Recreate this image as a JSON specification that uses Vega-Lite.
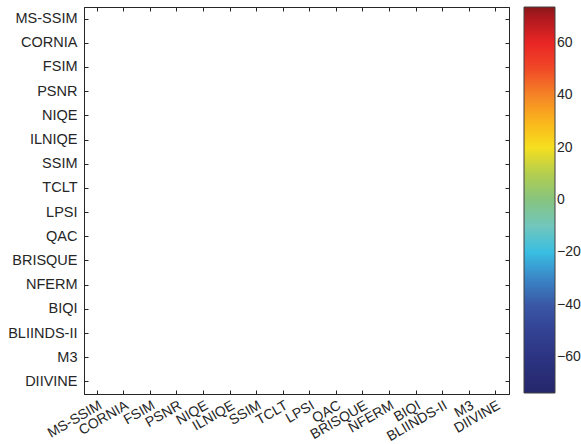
{
  "$schema": "https://vega.github.io/schema/vega-lite/v6.json",
  "width": 425,
  "height": 387,
  "padding": {"left": 7, "top": 6, "right": 0, "bottom": 0},
  "config": {
    "font": "Liberation Sans",
    "view": {"stroke": "#262626", "strokeWidth": 1},
    "axis": {"domainColor": "#262626", "tickColor": "#262626", "labelColor": "#262626", "labelFontSize": 14.5, "grid": false, "tickSize": -4},
    "legend": {"gradientLength": 386, "gradientThickness": 31, "labelFontSize": 14, "labelColor": "#262626", "labelOffset": 5, "offset": 14, "padding": 0, "gradientStrokeColor": "#404040", "gradientStrokeWidth": 1}
  },
  "datasets": {
    "cells": [
      {"c":"MS-SSIM","r":"MS-SSIM","v":null},{"c":"CORNIA","r":"MS-SSIM","v":null},{"c":"FSIM","r":"MS-SSIM","v":null},{"c":"PSNR","r":"MS-SSIM","v":null},{"c":"NIQE","r":"MS-SSIM","v":null},{"c":"ILNIQE","r":"MS-SSIM","v":null},{"c":"SSIM","r":"MS-SSIM","v":null},{"c":"TCLT","r":"MS-SSIM","v":null},{"c":"LPSI","r":"MS-SSIM","v":null},{"c":"QAC","r":"MS-SSIM","v":null},{"c":"BRISQUE","r":"MS-SSIM","v":null},{"c":"NFERM","r":"MS-SSIM","v":null},{"c":"BIQI","r":"MS-SSIM","v":null},{"c":"BLIINDS-II","r":"MS-SSIM","v":null},{"c":"M3","r":"MS-SSIM","v":null},{"c":"DIIVINE","r":"MS-SSIM","v":null},
      {"c":"MS-SSIM","r":"CORNIA","v":null},{"c":"CORNIA","r":"CORNIA","v":null},{"c":"FSIM","r":"CORNIA","v":null},{"c":"PSNR","r":"CORNIA","v":null},{"c":"NIQE","r":"CORNIA","v":null},{"c":"ILNIQE","r":"CORNIA","v":null},{"c":"SSIM","r":"CORNIA","v":null},{"c":"TCLT","r":"CORNIA","v":null},{"c":"LPSI","r":"CORNIA","v":null},{"c":"QAC","r":"CORNIA","v":null},{"c":"BRISQUE","r":"CORNIA","v":null},{"c":"NFERM","r":"CORNIA","v":null},{"c":"BIQI","r":"CORNIA","v":null},{"c":"BLIINDS-II","r":"CORNIA","v":null},{"c":"M3","r":"CORNIA","v":null},{"c":"DIIVINE","r":"CORNIA","v":null},
      {"c":"MS-SSIM","r":"FSIM","v":null},{"c":"CORNIA","r":"FSIM","v":null},{"c":"FSIM","r":"FSIM","v":null},{"c":"PSNR","r":"FSIM","v":null},{"c":"NIQE","r":"FSIM","v":null},{"c":"ILNIQE","r":"FSIM","v":null},{"c":"SSIM","r":"FSIM","v":null},{"c":"TCLT","r":"FSIM","v":null},{"c":"LPSI","r":"FSIM","v":null},{"c":"QAC","r":"FSIM","v":null},{"c":"BRISQUE","r":"FSIM","v":null},{"c":"NFERM","r":"FSIM","v":null},{"c":"BIQI","r":"FSIM","v":null},{"c":"BLIINDS-II","r":"FSIM","v":null},{"c":"M3","r":"FSIM","v":null},{"c":"DIIVINE","r":"FSIM","v":null},
      {"c":"MS-SSIM","r":"PSNR","v":null},{"c":"CORNIA","r":"PSNR","v":null},{"c":"FSIM","r":"PSNR","v":null},{"c":"PSNR","r":"PSNR","v":null},{"c":"NIQE","r":"PSNR","v":null},{"c":"ILNIQE","r":"PSNR","v":null},{"c":"SSIM","r":"PSNR","v":null},{"c":"TCLT","r":"PSNR","v":null},{"c":"LPSI","r":"PSNR","v":null},{"c":"QAC","r":"PSNR","v":null},{"c":"BRISQUE","r":"PSNR","v":null},{"c":"NFERM","r":"PSNR","v":null},{"c":"BIQI","r":"PSNR","v":null},{"c":"BLIINDS-II","r":"PSNR","v":null},{"c":"M3","r":"PSNR","v":null},{"c":"DIIVINE","r":"PSNR","v":null},
      {"c":"MS-SSIM","r":"NIQE","v":null},{"c":"CORNIA","r":"NIQE","v":null},{"c":"FSIM","r":"NIQE","v":null},{"c":"PSNR","r":"NIQE","v":null},{"c":"NIQE","r":"NIQE","v":null},{"c":"ILNIQE","r":"NIQE","v":null},{"c":"SSIM","r":"NIQE","v":null},{"c":"TCLT","r":"NIQE","v":null},{"c":"LPSI","r":"NIQE","v":null},{"c":"QAC","r":"NIQE","v":null},{"c":"BRISQUE","r":"NIQE","v":null},{"c":"NFERM","r":"NIQE","v":null},{"c":"BIQI","r":"NIQE","v":null},{"c":"BLIINDS-II","r":"NIQE","v":null},{"c":"M3","r":"NIQE","v":null},{"c":"DIIVINE","r":"NIQE","v":null},
      {"c":"MS-SSIM","r":"ILNIQE","v":null},{"c":"CORNIA","r":"ILNIQE","v":null},{"c":"FSIM","r":"ILNIQE","v":null},{"c":"PSNR","r":"ILNIQE","v":null},{"c":"NIQE","r":"ILNIQE","v":null},{"c":"ILNIQE","r":"ILNIQE","v":null},{"c":"SSIM","r":"ILNIQE","v":null},{"c":"TCLT","r":"ILNIQE","v":null},{"c":"LPSI","r":"ILNIQE","v":null},{"c":"QAC","r":"ILNIQE","v":null},{"c":"BRISQUE","r":"ILNIQE","v":null},{"c":"NFERM","r":"ILNIQE","v":null},{"c":"BIQI","r":"ILNIQE","v":null},{"c":"BLIINDS-II","r":"ILNIQE","v":null},{"c":"M3","r":"ILNIQE","v":null},{"c":"DIIVINE","r":"ILNIQE","v":null},
      {"c":"MS-SSIM","r":"SSIM","v":null},{"c":"CORNIA","r":"SSIM","v":null},{"c":"FSIM","r":"SSIM","v":null},{"c":"PSNR","r":"SSIM","v":null},{"c":"NIQE","r":"SSIM","v":null},{"c":"ILNIQE","r":"SSIM","v":null},{"c":"SSIM","r":"SSIM","v":null},{"c":"TCLT","r":"SSIM","v":null},{"c":"LPSI","r":"SSIM","v":null},{"c":"QAC","r":"SSIM","v":null},{"c":"BRISQUE","r":"SSIM","v":null},{"c":"NFERM","r":"SSIM","v":null},{"c":"BIQI","r":"SSIM","v":null},{"c":"BLIINDS-II","r":"SSIM","v":null},{"c":"M3","r":"SSIM","v":null},{"c":"DIIVINE","r":"SSIM","v":null},
      {"c":"MS-SSIM","r":"TCLT","v":null},{"c":"CORNIA","r":"TCLT","v":null},{"c":"FSIM","r":"TCLT","v":null},{"c":"PSNR","r":"TCLT","v":null},{"c":"NIQE","r":"TCLT","v":null},{"c":"ILNIQE","r":"TCLT","v":null},{"c":"SSIM","r":"TCLT","v":null},{"c":"TCLT","r":"TCLT","v":null},{"c":"LPSI","r":"TCLT","v":null},{"c":"QAC","r":"TCLT","v":null},{"c":"BRISQUE","r":"TCLT","v":null},{"c":"NFERM","r":"TCLT","v":null},{"c":"BIQI","r":"TCLT","v":null},{"c":"BLIINDS-II","r":"TCLT","v":null},{"c":"M3","r":"TCLT","v":null},{"c":"DIIVINE","r":"TCLT","v":null},
      {"c":"MS-SSIM","r":"LPSI","v":null},{"c":"CORNIA","r":"LPSI","v":null},{"c":"FSIM","r":"LPSI","v":null},{"c":"PSNR","r":"LPSI","v":null},{"c":"NIQE","r":"LPSI","v":null},{"c":"ILNIQE","r":"LPSI","v":null},{"c":"SSIM","r":"LPSI","v":null},{"c":"TCLT","r":"LPSI","v":null},{"c":"LPSI","r":"LPSI","v":null},{"c":"QAC","r":"LPSI","v":null},{"c":"BRISQUE","r":"LPSI","v":null},{"c":"NFERM","r":"LPSI","v":null},{"c":"BIQI","r":"LPSI","v":null},{"c":"BLIINDS-II","r":"LPSI","v":null},{"c":"M3","r":"LPSI","v":null},{"c":"DIIVINE","r":"LPSI","v":null},
      {"c":"MS-SSIM","r":"QAC","v":null},{"c":"CORNIA","r":"QAC","v":null},{"c":"FSIM","r":"QAC","v":null},{"c":"PSNR","r":"QAC","v":null},{"c":"NIQE","r":"QAC","v":null},{"c":"ILNIQE","r":"QAC","v":null},{"c":"SSIM","r":"QAC","v":null},{"c":"TCLT","r":"QAC","v":null},{"c":"LPSI","r":"QAC","v":null},{"c":"QAC","r":"QAC","v":null},{"c":"BRISQUE","r":"QAC","v":null},{"c":"NFERM","r":"QAC","v":null},{"c":"BIQI","r":"QAC","v":null},{"c":"BLIINDS-II","r":"QAC","v":null},{"c":"M3","r":"QAC","v":null},{"c":"DIIVINE","r":"QAC","v":null},
      {"c":"MS-SSIM","r":"BRISQUE","v":null},{"c":"CORNIA","r":"BRISQUE","v":null},{"c":"FSIM","r":"BRISQUE","v":null},{"c":"PSNR","r":"BRISQUE","v":null},{"c":"NIQE","r":"BRISQUE","v":null},{"c":"ILNIQE","r":"BRISQUE","v":null},{"c":"SSIM","r":"BRISQUE","v":null},{"c":"TCLT","r":"BRISQUE","v":null},{"c":"LPSI","r":"BRISQUE","v":null},{"c":"QAC","r":"BRISQUE","v":null},{"c":"BRISQUE","r":"BRISQUE","v":null},{"c":"NFERM","r":"BRISQUE","v":null},{"c":"BIQI","r":"BRISQUE","v":null},{"c":"BLIINDS-II","r":"BRISQUE","v":null},{"c":"M3","r":"BRISQUE","v":null},{"c":"DIIVINE","r":"BRISQUE","v":null},
      {"c":"MS-SSIM","r":"NFERM","v":null},{"c":"CORNIA","r":"NFERM","v":null},{"c":"FSIM","r":"NFERM","v":null},{"c":"PSNR","r":"NFERM","v":null},{"c":"NIQE","r":"NFERM","v":null},{"c":"ILNIQE","r":"NFERM","v":null},{"c":"SSIM","r":"NFERM","v":null},{"c":"TCLT","r":"NFERM","v":null},{"c":"LPSI","r":"NFERM","v":null},{"c":"QAC","r":"NFERM","v":null},{"c":"BRISQUE","r":"NFERM","v":null},{"c":"NFERM","r":"NFERM","v":null},{"c":"BIQI","r":"NFERM","v":null},{"c":"BLIINDS-II","r":"NFERM","v":null},{"c":"M3","r":"NFERM","v":null},{"c":"DIIVINE","r":"NFERM","v":null},
      {"c":"MS-SSIM","r":"BIQI","v":null},{"c":"CORNIA","r":"BIQI","v":null},{"c":"FSIM","r":"BIQI","v":null},{"c":"PSNR","r":"BIQI","v":null},{"c":"NIQE","r":"BIQI","v":null},{"c":"ILNIQE","r":"BIQI","v":null},{"c":"SSIM","r":"BIQI","v":null},{"c":"TCLT","r":"BIQI","v":null},{"c":"LPSI","r":"BIQI","v":null},{"c":"QAC","r":"BIQI","v":null},{"c":"BRISQUE","r":"BIQI","v":null},{"c":"NFERM","r":"BIQI","v":null},{"c":"BIQI","r":"BIQI","v":null},{"c":"BLIINDS-II","r":"BIQI","v":null},{"c":"M3","r":"BIQI","v":null},{"c":"DIIVINE","r":"BIQI","v":null},
      {"c":"MS-SSIM","r":"BLIINDS-II","v":null},{"c":"CORNIA","r":"BLIINDS-II","v":null},{"c":"FSIM","r":"BLIINDS-II","v":null},{"c":"PSNR","r":"BLIINDS-II","v":null},{"c":"NIQE","r":"BLIINDS-II","v":null},{"c":"ILNIQE","r":"BLIINDS-II","v":null},{"c":"SSIM","r":"BLIINDS-II","v":null},{"c":"TCLT","r":"BLIINDS-II","v":null},{"c":"LPSI","r":"BLIINDS-II","v":null},{"c":"QAC","r":"BLIINDS-II","v":null},{"c":"BRISQUE","r":"BLIINDS-II","v":null},{"c":"NFERM","r":"BLIINDS-II","v":null},{"c":"BIQI","r":"BLIINDS-II","v":null},{"c":"BLIINDS-II","r":"BLIINDS-II","v":null},{"c":"M3","r":"BLIINDS-II","v":null},{"c":"DIIVINE","r":"BLIINDS-II","v":null},
      {"c":"MS-SSIM","r":"M3","v":null},{"c":"CORNIA","r":"M3","v":null},{"c":"FSIM","r":"M3","v":null},{"c":"PSNR","r":"M3","v":null},{"c":"NIQE","r":"M3","v":null},{"c":"ILNIQE","r":"M3","v":null},{"c":"SSIM","r":"M3","v":null},{"c":"TCLT","r":"M3","v":null},{"c":"LPSI","r":"M3","v":null},{"c":"QAC","r":"M3","v":null},{"c":"BRISQUE","r":"M3","v":null},{"c":"NFERM","r":"M3","v":null},{"c":"BIQI","r":"M3","v":null},{"c":"BLIINDS-II","r":"M3","v":null},{"c":"M3","r":"M3","v":null},{"c":"DIIVINE","r":"M3","v":null},
      {"c":"MS-SSIM","r":"DIIVINE","v":null},{"c":"CORNIA","r":"DIIVINE","v":null},{"c":"FSIM","r":"DIIVINE","v":null},{"c":"PSNR","r":"DIIVINE","v":null},{"c":"NIQE","r":"DIIVINE","v":null},{"c":"ILNIQE","r":"DIIVINE","v":null},{"c":"SSIM","r":"DIIVINE","v":null},{"c":"TCLT","r":"DIIVINE","v":null},{"c":"LPSI","r":"DIIVINE","v":null},{"c":"QAC","r":"DIIVINE","v":null},{"c":"BRISQUE","r":"DIIVINE","v":null},{"c":"NFERM","r":"DIIVINE","v":null},{"c":"BIQI","r":"DIIVINE","v":null},{"c":"BLIINDS-II","r":"DIIVINE","v":null},{"c":"M3","r":"DIIVINE","v":null},{"c":"DIIVINE","r":"DIIVINE","v":null}
    ]
  },
  "data": {"name": "cells"},
  "layer": [
    {
      "mark": {"type": "rect"},
      "encoding": {
        "x": {"field": "c", "type": "nominal", "title": null,
              "scale": {"domain": ["MS-SSIM","CORNIA","FSIM","PSNR","NIQE","ILNIQE","SSIM","TCLT","LPSI","QAC","BRISQUE","NFERM","BIQI","BLIINDS-II","M3","DIIVINE"], "paddingInner": 0, "paddingOuter": 0},
              "axis": {"orient": "bottom", "labelAngle": -30, "labelAlign": "right", "labelBaseline": "top", "labelPadding": 8, "labelFontSize": 14}},
        "y": {"field": "r", "type": "nominal", "title": null,
              "scale": {"domain": ["MS-SSIM","CORNIA","FSIM","PSNR","NIQE","ILNIQE","SSIM","TCLT","LPSI","QAC","BRISQUE","NFERM","BIQI","BLIINDS-II","M3","DIIVINE"], "paddingInner": 0, "paddingOuter": 0},
              "axis": {"orient": "left", "labelPadding": 11}},
        "color": {
          "condition": {"test": "datum.v == null", "value": "#ffffff"},
          "field": "v", "type": "quantitative",
          "scale": {"domain": [-73.7, 73.7], "interpolate": "rgb",
                    "range": ["#25276b","#2a307c","#303d8f","#3a4f9f","#3b7cc0","#33bde6","#70c6c0","#86c47f","#b5cf4c","#fde11a","#f9ad1c","#f47a28","#ee3a26","#e81c24","#8a171a"]},
          "legend": {"title": null, "direction": "vertical", "values": [-60,-40,-20,0,20,40,60]}
        }
      }
    },
    {
      "mark": {"type": "rect", "opacity": 0},
      "encoding": {
        "x": {"field": "c", "type": "nominal", "title": null, "axis": {"orient": "top", "labels": false}},
        "y": {"field": "r", "type": "nominal", "title": null, "axis": {"orient": "right", "labels": false}}
      }
    }
  ],
  "resolve": {"axis": {"x": "independent", "y": "independent"}}
}
